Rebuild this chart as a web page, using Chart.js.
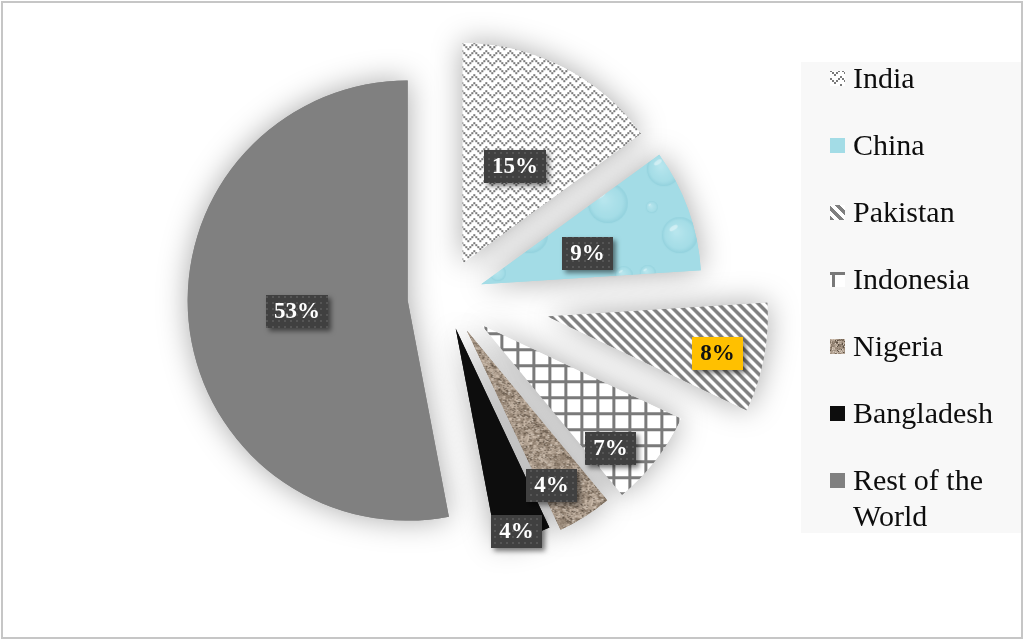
<!DOCTYPE html>
<html>
<head>
<meta charset="utf-8">
<title>Share by country</title>
<script src="https://cdn.jsdelivr.net/npm/chart.js@4.4.1/dist/chart.umd.min.js"></script>
<style>
  html, body { margin: 0; padding: 0; background: #ffffff; }
  #wrap { width: 1024px; height: 639px; }
</style>
</head>
<body>
<div id="wrap"><canvas id="pie" width="1024" height="639"></canvas></div>
<script>
// Slice categories and their shares (percent)
const countries = ['India', 'China', 'Pakistan', 'Indonesia', 'Nigeria', 'Bangladesh', 'Rest of the World'];
const shares = [15, 9, 8, 7, 4, 4, 53];

// How far each slice is pulled out from the centre (px)
const explode = [38, 38, 104, 46, 40, 33, 38];
// Where each value label sits inside its slice: fraction of radius, fraction of the slice's sweep
const labelRadius = [0.50, 0.50, 0.79, 0.81, 0.80, 0.965, 0.504];
const labelSweep = [0.53, 0.62, 0.55, 0.73, 0.75, 0.60, 0.50];

const SERIF = '"Liberation Serif", "Times New Roman", serif';

// ---------- fill textures ----------
function makeTile(w, h, paint) {
  const c = document.createElement('canvas');
  c.width = w; c.height = h;
  paint(c.getContext('2d'), w, h);
  return c;
}
function hash(x, y) {
  const s = Math.sin(x * 12.9898 + y * 78.233) * 43758.5453;
  return s - Math.floor(s);
}
const ctx0 = document.getElementById('pie').getContext('2d');

// grey checker broken by white zig-zags
const indiaTile = makeTile(24, 16, (g, w, h) => {
  g.fillStyle = '#ffffff'; g.fillRect(0, 0, w, h);
  g.fillStyle = '#7a7a7a';
  const tri = [0, 1, 2, 3, 2, 1];
  for (let i = 0; i < 12; i++) {
    for (let j = 0; j < 8; j++) {
      if ((i + j) % 2 !== 0) continue;
      if ((((j - tri[i % 6]) % 4) + 4) % 4 === 0) continue;
      g.fillRect(i * 2, j * 2, 2, 2);
    }
  }
});

// pale blue water-drop texture
const chinaTile = makeTile(150, 150, (g, w, h) => {
  g.fillStyle = '#a3dce6'; g.fillRect(0, 0, w, h);
  const drops = [[28, 32, 17], [82, 22, 11], [122, 66, 20], [44, 98, 18], [100, 120, 13],
                 [138, 138, 9], [12, 136, 8], [70, 66, 8], [142, 18, 7], [16, 70, 6]];
  drops.forEach(([x, y, r]) => {
    for (let ox = -w; ox <= w; ox += w) {
      for (let oy = -h; oy <= h; oy += h) {
        const cx = x + ox, cy = y + oy;
        const rg = g.createRadialGradient(cx - r * 0.2, cy - r * 0.2, r * 0.1, cx, cy, r);
        rg.addColorStop(0, 'rgba(200,238,244,0.55)');
        rg.addColorStop(0.75, 'rgba(170,224,233,0.35)');
        rg.addColorStop(1, 'rgba(125,196,210,0.45)');
        g.fillStyle = rg;
        g.beginPath(); g.arc(cx, cy, r, 0, Math.PI * 2); g.fill();
        g.fillStyle = 'rgba(235,250,252,0.55)';
        g.beginPath(); g.ellipse(cx - r * 0.35, cy - r * 0.4, r * 0.26, r * 0.12, -0.6, 0, Math.PI * 2); g.fill();
      }
    }
  });
});

// grey downward diagonal stripes
const pakistanTile = makeTile(10, 10, (g, w, h) => {
  g.fillStyle = '#ffffff'; g.fillRect(0, 0, w, h);
  g.fillStyle = '#7f7f7f';
  for (let x = 0; x < w; x++) {
    for (let y = 0; y < h; y++) {
      if ((((x - y) % 10) + 10) % 10 < 5) g.fillRect(x, y, 1, 1);
    }
  }
});

// large grey grid
const indonesiaTile = makeTile(16, 16, (g, w, h) => {
  g.fillStyle = '#ffffff'; g.fillRect(0, 0, w, h);
  g.fillStyle = '#7a7a7a';
  g.fillRect(0, 0, w, 3);
  g.fillRect(0, 0, 3, h);
});

// sandy granite texture
const nigeriaTile = makeTile(64, 64, (g, w, h) => {
  const img = g.createImageData(w, h);
  for (let y = 0; y < h; y++) {
    for (let x = 0; x < w; x++) {
      const n1 = hash(x, y);
      const n2 = hash(Math.floor(x / 3), Math.floor(y / 3));
      let v = (n1 - 0.5) * 46 + (n2 - 0.5) * 60;
      let r = 164 + v, gg = 148 + v, b = 132 + v;
      if (n1 < 0.08) { r = 92; gg = 80; b = 68; }
      if (n1 > 0.95) { r = 214; gg = 204; b = 192; }
      const k = (y * w + x) * 4;
      img.data[k] = r; img.data[k + 1] = gg; img.data[k + 2] = b; img.data[k + 3] = 255;
    }
  }
  g.putImageData(img, 0, 0);
});

const fills = [
  ctx0.createPattern(indiaTile, 'repeat'),
  ctx0.createPattern(chinaTile, 'repeat'),
  ctx0.createPattern(pakistanTile, 'repeat'),
  ctx0.createPattern(indonesiaTile, 'repeat'),
  ctx0.createPattern(nigeriaTile, 'repeat'),
  '#0d0d0d',
  '#808080'
];

// dotted dark background for value labels
const labelTile = makeTile(6, 6, (g) => {
  g.fillStyle = '#404040'; g.fillRect(0, 0, 6, 6);
  g.fillStyle = '#555555'; g.fillRect(2, 2, 2, 2);
});
const labelFill = ctx0.createPattern(labelTile, 'repeat');

// ---------- plugins ----------
const frame = {
  id: 'frame',
  beforeDraw(chart) {
    const c = chart.ctx;
    c.save();
    c.fillStyle = '#ffffff';
    c.fillRect(0, 0, chart.width, chart.height);
    c.fillStyle = '#f8f8f8';
    c.fillRect(801, 62, 220, 471);
    c.restore();
  }
};

const explodedSlices = {
  id: 'explodedSlices',
  beforeDatasetsDraw(chart) {
    const c = chart.ctx;
    const arcs = chart.getDatasetMeta(0).data;
    const shift = (arc, i) => {
      const mid = (arc.startAngle + arc.endAngle) / 2;
      c.translate(Math.cos(mid) * explode[i], Math.sin(mid) * explode[i]);
    };
    // soft halo behind every slice
    arcs.forEach((arc, i) => {
      c.save();
      shift(arc, i);
      c.shadowColor = 'rgba(0,0,0,0.34)';
      c.shadowBlur = 30;
      arc.draw(c);
      c.restore();
    });
    // slices on top
    arcs.forEach((arc, i) => {
      c.save();
      shift(arc, i);
      arc.draw(c);
      c.restore();
    });
    return false;
  }
};

const valueLabels = {
  id: 'valueLabels',
  afterDraw(chart) {
    const c = chart.ctx;
    const arcs = chart.getDatasetMeta(0).data;
    const total = shares.reduce((a, b) => a + b, 0);
    c.save();
    c.font = 'bold 23px ' + SERIF;
    c.textAlign = 'center';
    c.textBaseline = 'middle';
    arcs.forEach((arc, i) => {
      const mid = (arc.startAngle + arc.endAngle) / 2;
      const ax = arc.x + Math.cos(mid) * explode[i];
      const ay = arc.y + Math.sin(mid) * explode[i];
      const ang = arc.startAngle + (arc.endAngle - arc.startAngle) * labelSweep[i];
      const r = arc.outerRadius * labelRadius[i];
      const lx = ax + Math.cos(ang) * r;
      const ly = ay + Math.sin(ang) * r;
      const text = Math.round(shares[i] / total * 100) + '%';
      const tw = c.measureText(text).width;
      const bw = Math.round(tw + 16), bh = 33;
      const bx = Math.round(lx - bw / 2), by = Math.round(ly - bh / 2);
      const gold = countries[i] === 'Pakistan';
      c.save();
      c.shadowColor = 'rgba(0,0,0,0.5)';
      c.shadowBlur = 5;
      c.shadowOffsetX = 3;
      c.shadowOffsetY = 3;
      c.fillStyle = gold ? '#ffc000' : labelFill;
      c.fillRect(bx, by, bw, bh);
      c.restore();
      c.fillStyle = gold ? '#111111' : '#ffffff';
      c.fillText(text, bx + bw / 2, by + bh / 2 + 1);
    });
    c.restore();
  }
};

const sideLegend = {
  id: 'sideLegend',
  afterDraw(chart) {
    const c = chart.ctx;
    c.save();
    c.font = '30px ' + SERIF;
    c.textBaseline = 'alphabetic';
    c.textAlign = 'left';
    const maxW = 160;
    countries.forEach((name, i) => {
      const base = 88 + i * 67;
      c.fillStyle = fills[i];
      c.fillRect(830, base - 17, 15, 15);
      // wrap words onto lines
      const words = name.split(' ');
      const lines = [];
      let line = '';
      words.forEach(w => {
        const t = line ? line + ' ' + w : w;
        if (c.measureText(t).width > maxW && line) { lines.push(line); line = w; }
        else line = t;
      });
      lines.push(line);
      c.fillStyle = '#0d0d0d';
      lines.forEach((ln, k) => c.fillText(ln, 853, base + k * 36));
    });
    c.restore();
    // outer frame
    c.save();
    c.strokeStyle = '#c6c6c6';
    c.lineWidth = 2;
    c.strokeRect(2, 2, chart.width - 4, chart.height - 3);
    c.restore();
  }
};

new Chart(document.getElementById('pie'), {
  type: 'pie',
  data: {
    labels: countries,
    datasets: [{
      data: shares,
      backgroundColor: fills,
      borderWidth: 0
    }]
  },
  options: {
    responsive: false,
    animation: false,
    devicePixelRatio: 1,
    radius: 220,
    layout: { padding: { left: 0, top: 0, right: 133, bottom: 45 } },
    plugins: {
      legend: { display: false },
      tooltip: { enabled: false }
    },
    events: []
  },
  plugins: [frame, explodedSlices, valueLabels, sideLegend]
});
</script>
</body>
</html>
